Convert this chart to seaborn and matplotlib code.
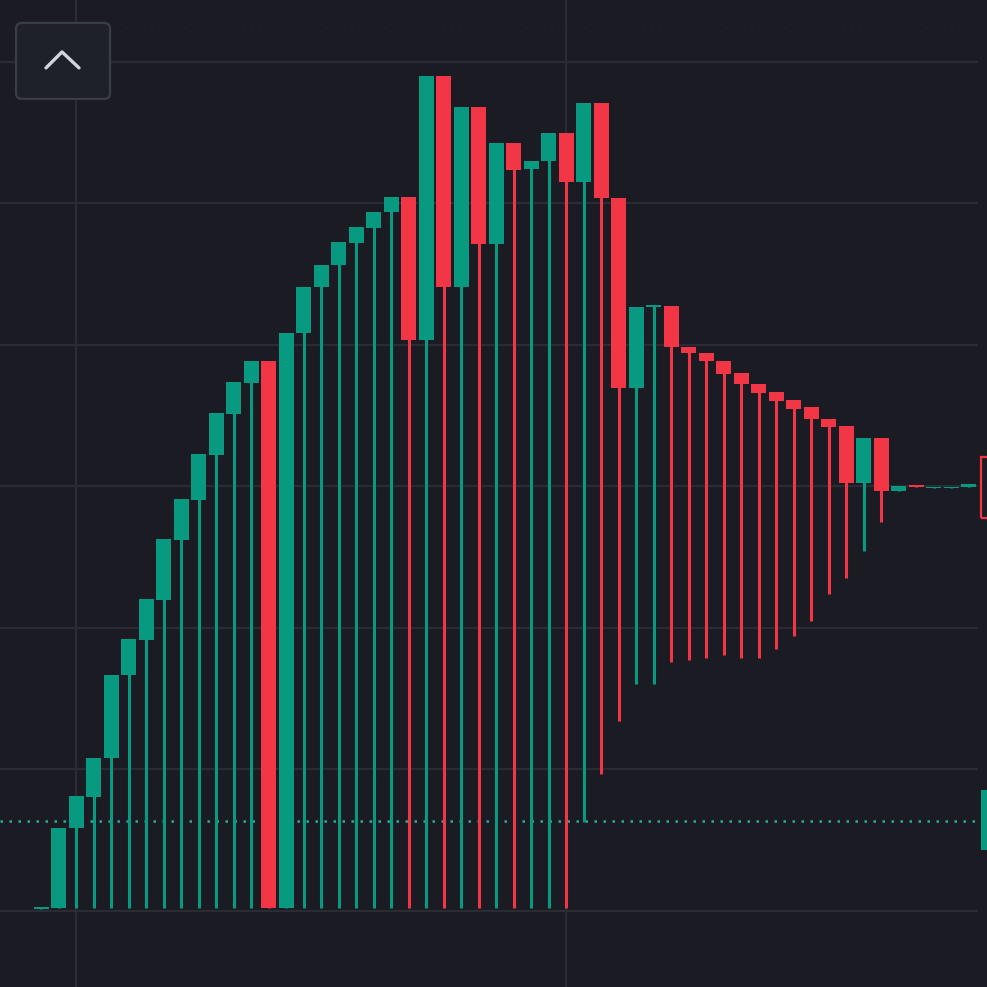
import numpy as np
import pandas as pd
import matplotlib
matplotlib.use("Agg")
import matplotlib.pyplot as plt
from matplotlib.patches import FancyBboxPatch, Rectangle
import seaborn as sns

# === Colours (dark trading theme) ===
BG = '#1b1c23'
GRID = '#2a2b33'
UP = '#089981'
DOWN = '#f23645'

# === Data: candles ===
opens = [0.14, 0.21, 5.87, 8.06, 10.81, 16.68, 19.15, 21.98, 26.22, 29.05,
         32.23, 35.12, 37.31, 38.87, 0.21, 40.85, 44.10, 45.65, 47.21, 48.27,
         49.40, 50.46, 40.35, 59.01, 44.10, 56.82, 47.14, 54.28, 52.44, 53.00,
         54.98, 51.52, 57.10, 50.39, 36.96, 42.69, 42.76, 39.86, 39.43, 38.87,
         38.02, 37.24, 36.68, 36.11, 35.62, 34.77, 34.28, 30.25, 33.43, 29.65,
         30.11, 29.89, 29.89, 29.96]
closes = [0.28, 5.87, 8.13, 10.81, 16.68, 19.22, 22.05, 26.29, 29.12, 32.30,
          35.19, 37.39, 38.87, 0.21, 40.85, 44.10, 45.65, 47.28, 48.34, 49.40,
          50.46, 40.35, 59.01, 44.10, 56.82, 47.14, 54.28, 52.37, 53.00, 54.98,
          51.52, 57.10, 50.39, 36.96, 42.69, 42.83, 39.86, 39.43, 38.87, 37.95,
          37.24, 36.61, 36.04, 35.49, 34.77, 34.20, 30.25, 33.43, 29.68, 30.04,
          29.96, 29.96, 29.96, 30.18]
lows = [0.14] + [0.21] * 30 + [6.29, 9.68, 13.43, 16.04, 16.04, 17.60, 17.74,
                               17.88, 18.09, 17.88, 17.88, 18.52, 19.43, 20.49,
                               22.40, 23.53, 25.44, 27.49, 29.65, 29.96, 29.89,
                               29.89, 29.96]
last_price = 6.36
price_grid = [0, 10, 20, 30, 40, 50, 60]
time_grid = [2, 30]

df = pd.DataFrame({'open': opens, 'close': closes, 'low': lows})
df['x'] = np.arange(len(df))
df['high'] = df[['open', 'close']].max(axis=1)
df['bottom'] = df[['open', 'close']].min(axis=1)
df['body'] = (df['close'] - df['open']).abs()
df['color'] = np.where(df['close'] >= df['open'], UP, DOWN)

sns.set_theme(style="dark", rc={'axes.facecolor': BG, 'figure.facecolor': BG})

fig = plt.figure(figsize=(9.871, 9.871), dpi=100)
ax = fig.add_axes([0, 0, 1, 1])
ax.set_facecolor(BG)

ax.set_xlim(-2.36, 54.04)
ax.set_ylim(-5.37, 64.38)

# grid
grid_end = 977 / 987
for p in price_grid:
    ax.axhline(p, xmax=grid_end, color=GRID, lw=1.6, zorder=0)
for t in time_grid:
    ax.axvline(t, color=GRID, lw=1.6, zorder=0)
ax.axhline(62.4, xmax=grid_end, color='#212229', lw=1, ls=(0, (2, 4)), zorder=0)

# last price line
ax.axhline(last_price, xmax=grid_end, color='#2bab98', lw=1.8, ls=(0, (1, 2.6)), zorder=1)

# candles
ax.vlines(df['x'], df['low'], df['high'], colors=df['color'], lw=2.2, zorder=2)
ax.bar(df['x'], df['body'], bottom=df['bottom'], width=0.86,
       color=df['color'], edgecolor='none', zorder=3)

# price scale tags cut off at the right edge
ax.add_patch(Rectangle((53.7, 27.77), 2, 4.31, fill=False, edgecolor=DOWN, lw=1.6, zorder=4))
ax.add_patch(Rectangle((53.7, 4.31), 2, 4.24, facecolor=UP, edgecolor='none', zorder=4))

ax.set_xticks([])
ax.set_yticks([])
for s in ax.spines.values():
    s.set_visible(False)

# scroll-up button
btn = FancyBboxPatch((16 / 987, 1 - 99 / 987), 94 / 987, 76 / 987,
                     boxstyle="round,pad=0,rounding_size=0.006",
                     transform=fig.transFigure, facecolor='#1e2129',
                     edgecolor='#3a3d46', lw=1.6, zorder=10)
fig.patches.append(btn)
fig.lines.append(plt.Line2D([46 / 987, 62 / 987, 79 / 987],
                            [1 - 68 / 987, 1 - 52 / 987, 1 - 68 / 987],
                            transform=fig.transFigure, color='#d1d4dc', lw=2.4,
                            solid_capstyle='round', solid_joinstyle='round', zorder=11))

fig.savefig('out.png', dpi=100, facecolor=BG)
